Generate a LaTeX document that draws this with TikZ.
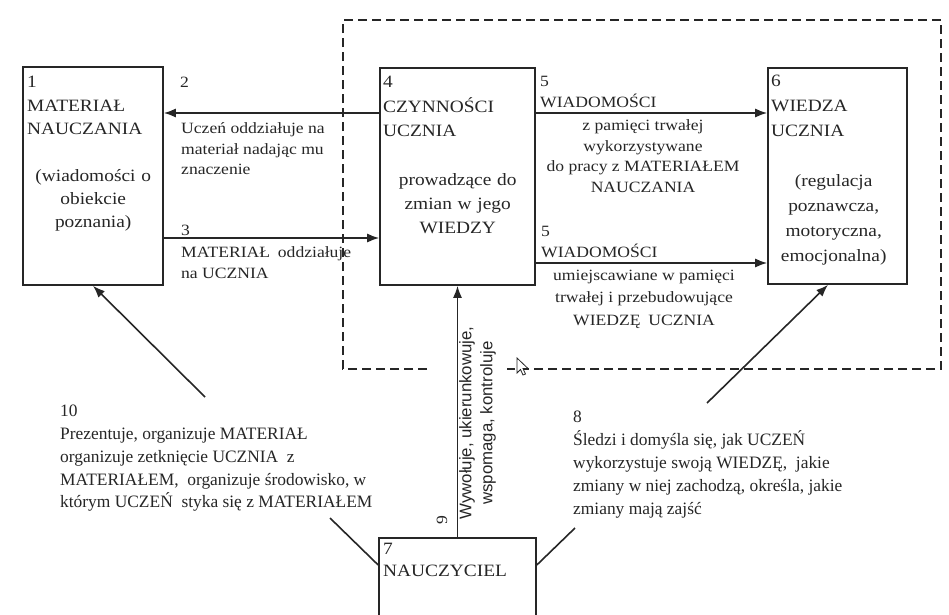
\documentclass[tikz,border=0pt]{standalone}
\usepackage{fontspec}
\setmainfont{Liberation Serif}
\newfontfamily\boxfont{Liberation Serif}[FakeStretch=1.12]
\newfontfamily\rotfont{Liberation Sans}
\usetikzlibrary{arrows.meta}
\definecolor{ink}{HTML}{262626}

\begin{document}
\begin{tikzpicture}[x=1pt, y=-1pt, ink,
    box/.style={draw, line width=1.6pt, inner sep=0pt},
    boxtext/.style={anchor=north west, inner sep=0pt, align=left, font=\boxfont\fontsize{17.3}{24.3}\selectfont},
    lbl/.style={anchor=north west, inner sep=0pt, align=left, font=\boxfont\fontsize{15.7}{20.5}\selectfont},
    note/.style={anchor=north west, inner sep=0pt, align=left, font=\fontsize{17.4}{22.8}\selectfont},
    conn/.style={line width=1.6pt},
    >={Latex[length=12pt,width=9pt]}]

          \useasboundingbox (0,0) rectangle (949,614);
          \fill[white] (0,0) rectangle (949,614);
          \clip (0,0) rectangle (949,614);

          \draw[line width=1.5pt, dash pattern=on 9pt off 5pt] (427,369) -- (343,369) -- (343,20) -- (941,20) -- (941,369) -- (507,369);

          \node[box, minimum width=140pt, minimum height=218pt] (mat) at (93,176) {};
          \node[box, minimum width=155pt, minimum height=217pt] (czyn) at (457.5,176.5) {};
          \node[box, minimum width=139pt, minimum height=216pt] (wiedza) at (837.5,176) {};
          \node[box, minimum width=157pt, minimum height=110pt, anchor=north] (naucz) at (457.5,537) {};

          \node[boxtext, text width=132pt, font=\boxfont\fontsize{17.3}{23.3}\selectfont] (matT) at (27,76.3)
          {{\raggedright 1\\MATERIAŁ\\NAUCZANIA\par}\vspace{\baselineskip}{\centering (wiadomości o\\obiekcie\\poznania)\par}};
          \node[boxtext, text width=149pt] (czynT) at (383,76.3)
          {{\raggedright 4\\CZYNNOŚCI\\UCZNIA\par}\vspace{\baselineskip}{\centering prowadzące do\\zmian w jego\\WIEDZY\par}};
          \node[boxtext, text width=125pt, font=\boxfont\fontsize{17.3}{25}\selectfont] (wiedzaT) at (771,75.3)
          {{\raggedright 6\\WIEDZA\\UCZNIA\par}\vspace{\baselineskip}{\centering (regulacja\\poznawcza,\\motoryczna,\\emocjonalna)\par}};
          \node[boxtext, font=\boxfont\fontsize{17.3}{22}\selectfont] (nauczT) at (383,543.3) {7\\NAUCZYCIEL};

          \node[lbl] (num2) at (180,76.5) {2};
          \node[lbl] (opis2) at (181,122.4) {Uczeń oddziałuje na\\materiał nadając mu\\znaczenie};
          \node[lbl] (num3) at (181,224.5) {3};
          \node[lbl] (opis3) at (181,246.4) {MATERIAŁ\enspace oddziałuje\\na UCZNIA};
          \node[lbl] (num5a) at (540,76.5) {5\\WIADOMOŚCI};
          \node[lbl, anchor=north, align=center] (opis5a) at (643,119.4)
          {z pamięci trwałej\\wykorzystywane\\do pracy z MATERIAŁEM\\NAUCZANIA};
          \node[lbl] (num5b) at (541,226.5) {5\\WIADOMOŚCI};
          \node[lbl, anchor=north, align=center, font=\boxfont\fontsize{15.7}{22.5}\selectfont] (opis5b) at (644,269.4)
          {umiejscawiane w pamięci\\trwałej i przebudowujące\\WIEDZĘ\enspace UCZNIA};

          \node[note] (opis10) at (60,405)
          {10\\Prezentuje, organizuje MATERIAŁ\\organizuje zetknięcie UCZNIA\enspace z\\MATERIAŁEM,\enspace organizuje środowisko, w\\którym UCZEŃ\enspace styka się z MATERIAŁEM};
          \node[note] (opis8) at (573,411.2)
          {8\\Śledzi i domyśla się, jak UCZEŃ\\wykorzystuje swoją WIEDZĘ,\enspace jakie\\zmiany w niej zachodzą, określa, jakie\\zmiany mają zajść};

          \node[rotate=90, align=center, inner sep=0pt, font=\rotfont\fontsize{16.8}{21}\selectfont] (opis9) at (477.5,423)
          {Wywołuje, ukierunkowuje,\\wspomaga, kontroluje};
          \node[rotate=90, inner sep=0pt, font=\boxfont\fontsize{15.7}{21}\selectfont] (num9) at (442,520) {9};

          \coordinate (wiersz2) at (0,113);
          \coordinate (wiersz3) at (0,238);
          \coordinate (wiersz5) at (0,263);
          \coordinate (k10a) at (205,397);
          \coordinate (k10b) at (330,518);
          \coordinate (k8a) at (707,403);
          \coordinate (k8b) at (575,528);

          \draw[conn, ->] (czyn.west |- wiersz2) -- (mat.east |- wiersz2);
          \draw[conn, ->] (mat.east |- wiersz3) -- (czyn.west |- wiersz3);
          \draw[conn, ->] (czyn.east |- wiersz2) -- (wiedza.west |- wiersz2);
          \draw[conn, ->] (czyn.east |- wiersz5) -- (wiedza.west |- wiersz5);
          \draw[conn, ->] (naucz.north) -- (czyn.south);
          \draw[conn, ->] (k10a) -- (mat.south);
          \draw[conn] (naucz.west |- 0,565) -- (k10b);
          \draw[conn, ->] (k8a) -- (wiedza.south -| 828,0);
          \draw[conn] (naucz.east |- 0,565) -- (k8b);

          % kursor
          \filldraw[fill=white, line width=0.8pt, shift={(517,358)}]
          (0,0) -- (0,15) -- (3.5,11.5) -- (6,17) -- (8.5,16) -- (6,10.5) -- (11,10.5) -- cycle;

        \end{tikzpicture}
\end{document}
